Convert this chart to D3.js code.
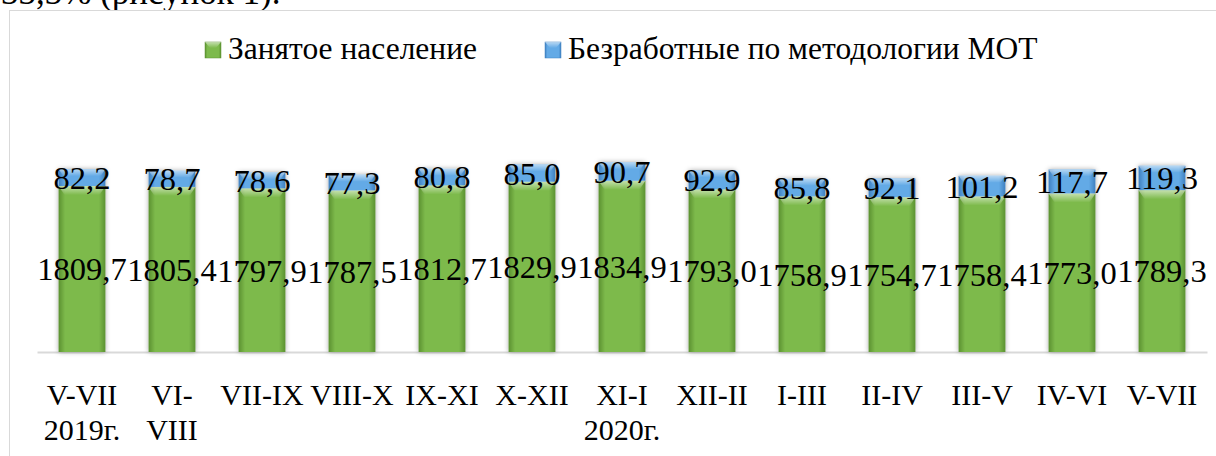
<!DOCTYPE html>
<html>
<head>
<meta charset="utf-8">
<script src="https://cdn.jsdelivr.net/npm/d3@7"></script>
<style>
  body { margin: 0; background: #fff; }
  svg text { font-family: "Liberation Serif", "DejaVu Serif", "Times New Roman", serif; }
</style>
</head>
<body>
<div id="chart"></div>
<script>
const width = 1216;
const height = 456;

// data
const periods = ["V-VII 2019г.", "VI-VIII", "VII-IX", "VIII-X", "IX-XI", "X-XII", "XI-I 2020г.",
  "XII-II", "I-III", "II-IV", "III-V", "IV-VI", "V-VII"];
const tickLines = [["V-VII", "2019г."], ["VI-", "VIII"], ["VII-IX"], ["VIII-X"], ["IX-XI"], ["X-XII"],
  ["XI-I", "2020г."], ["XII-II"], ["I-III"], ["II-IV"], ["III-V"], ["IV-VI"], ["V-VII"]];
const employed = [1809.7, 1805.4, 1797.9, 1787.5, 1812.7, 1829.9, 1834.9, 1793.0, 1758.9, 1754.7, 1758.4, 1773.0, 1789.3];
const unemployed = [82.2, 78.7, 78.6, 77.3, 80.8, 85.0, 90.7, 92.9, 85.8, 92.1, 101.2, 117.7, 119.3];
const seriesNames = ["Занятое население", "Безработные по методологии МОТ"];

const fmt = (v) => v.toFixed(1).replace(".", ",");
const serif = '"Liberation Serif", "DejaVu Serif", "Times New Roman", serif';

const svg = d3
  .select("#chart")
  .append("svg")
  .attr("width", width)
  .attr("height", height)
  .style("display", "block");

const defs = svg.append("defs");

function sideGradient(id, edge, mid) {
  const g = defs.append("linearGradient").attr("id", id).attr("x1", 0).attr("x2", 1).attr("y1", 0).attr("y2", 0);
  g.append("stop").attr("offset", "0%").attr("stop-color", edge);
  g.append("stop").attr("offset", "14%").attr("stop-color", mid);
  g.append("stop").attr("offset", "86%").attr("stop-color", mid);
  g.append("stop").attr("offset", "100%").attr("stop-color", edge);
}
sideGradient("green-grad", "#5b9130", "#7dba4c");
sideGradient("blue-grad", "#3f80c0", "#63aae6");

const shine = defs.append("linearGradient").attr("id", "shine").attr("x1", 0).attr("x2", 0).attr("y1", 0).attr("y2", 1);
shine.append("stop").attr("offset", "0%").attr("stop-color", "#fff").attr("stop-opacity", 0.55);
shine.append("stop").attr("offset", "100%").attr("stop-color", "#fff").attr("stop-opacity", 0);

defs.append("filter").attr("id", "shadow").attr("x", "-30%").attr("y", "-10%").attr("width", "160%").attr("height", "120%")
  .append("feDropShadow").attr("dx", 0).attr("dy", 0).attr("stdDeviation", 2.5)
  .attr("flood-color", "#000").attr("flood-opacity", 0.35);

// text of the page above the chart (only its lower part shows)
svg.append("text")
  .attr("x", 1)
  .attr("y", 4)
  .attr("font-family", serif)
  .style("font-size", "35px")
  .text("33,3% (рисунок 1).");

// chart frame
svg.append("rect")
  .attr("x", 9.5)
  .attr("y", 10.5)
  .attr("width", 1300)
  .attr("height", 600)
  .attr("fill", "#fff")
  .attr("stroke", "#d9d9d9");

const xScale = d3.scaleBand().domain(periods).range([37, 1207]).paddingInner(0.48).paddingOuter(0.24);
const yScale = d3.scaleLinear().domain([1000, 2000]).range([352, 147]);

// x axis
const xAxis = d3.axisBottom(xScale).tickSize(0).tickSizeOuter(0).tickFormat("");
const axisG = svg.append("g").attr("transform", "translate(0, 352)").call(xAxis);
axisG.attr("font-family", serif);
axisG.select(".domain").attr("stroke", "#d9d9d9").attr("stroke-width", 2);
axisG.selectAll(".tick").each(function (d, i) {
  const t = d3.select(this).append("text")
    .attr("fill", "#000")
    .attr("text-anchor", "middle")
    .attr("font-family", serif)
    .style("font-size", "30px");
  tickLines[i].forEach((line, j) => {
    t.append("tspan").attr("x", 0).attr("y", 53 + j * 35).text(line);
  });
});

const rows = periods.map((p, i) => ({ p, emp: employed[i], unemp: unemployed[i] }));
const bw = xScale.bandwidth();

const bars = svg.append("g").selectAll("g").data(rows).join("g").attr("filter", "url(#shadow)");

// employed segment
bars.append("rect")
  .attr("x", (d) => xScale(d.p))
  .attr("y", (d) => yScale(d.emp))
  .attr("width", bw)
  .attr("height", (d) => yScale(1000) - yScale(d.emp))
  .attr("fill", "url(#green-grad)");

// unemployed segment
bars.append("rect")
  .attr("x", (d) => xScale(d.p))
  .attr("y", (d) => yScale(d.emp + d.unemp))
  .attr("width", bw)
  .attr("height", (d) => yScale(d.emp) - yScale(d.emp + d.unemp))
  .attr("fill", "url(#blue-grad)");

// bevel highlights
const bevel = svg.append("g");
bevel.selectAll(".g-shine").data(rows).join("path")
  .attr("class", "g-shine")
  .attr("fill", "url(#shine)")
  .attr("d", (d) => {
    const x = xScale(d.p), y = yScale(d.emp), h = 9;
    return `M${x},${y}H${x + bw}L${x + bw - 6},${y + h}H${x + 6}Z`;
  });
bevel.selectAll(".b-shine").data(rows).join("path")
  .attr("class", "b-shine")
  .attr("fill", "url(#shine)")
  .attr("d", (d) => {
    const x = xScale(d.p), y = yScale(d.emp + d.unemp), h = 7;
    return `M${x},${y}H${x + bw}L${x + bw - 5},${y + h}H${x + 5}Z`;
  });

// value labels
const labels = svg.append("g").attr("font-family", serif).style("font-size", "32.5px").attr("text-anchor", "middle");
labels.selectAll(".lab-emp").data(rows).join("text")
  .attr("class", "lab-emp")
  .attr("x", (d) => xScale(d.p) + bw / 2)
  .attr("y", (d) => (yScale(1000) + yScale(d.emp)) / 2)
  .attr("dy", "0.35em")
  .text((d) => fmt(d.emp));
labels.selectAll(".lab-unemp").data(rows).join("text")
  .attr("class", "lab-unemp")
  .attr("x", (d) => xScale(d.p) + bw / 2)
  .attr("y", (d) => (yScale(d.emp) + yScale(d.emp + d.unemp)) / 2)
  .attr("dy", "0.35em")
  .text((d) => fmt(d.unemp));

// legend
const legendX = [205, 545];
const legendFill = ["url(#green-grad)", "url(#blue-grad)"];
const legend = svg.append("g").selectAll("g").data(seriesNames).join("g")
  .attr("transform", (d, i) => `translate(${legendX[i]}, 42)`);
legend.append("rect").attr("width", 16).attr("height", 16).attr("fill", (d, i) => legendFill[i])
  .attr("stroke", (d, i) => (i ? "#3f80c0" : "#5b9130")).attr("stroke-width", 0.5);
legend.append("path").attr("d", "M0,0H16L11,6H5Z").attr("fill", "url(#shine)");
legend.append("text").attr("x", 23).attr("y", 17).attr("font-family", serif).style("font-size", "31.5px").text((d) => d);
</script>
</body>
</html>
